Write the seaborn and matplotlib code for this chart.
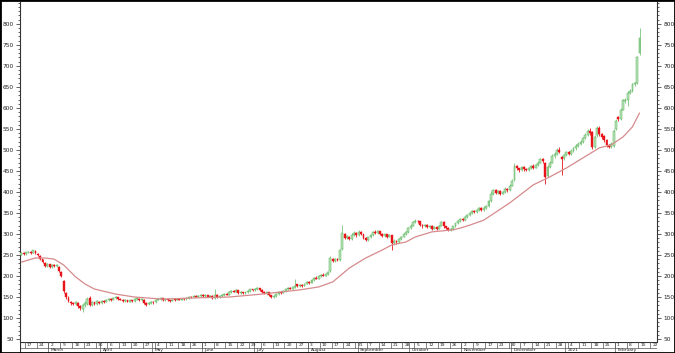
import numpy as np
import pandas as pd
import matplotlib
matplotlib.use("Agg")
import matplotlib.pyplot as plt
from matplotlib.patches import Rectangle
from matplotlib.ticker import FixedLocator, MultipleLocator
import seaborn as sns

sns.set_style("white")
plt.rcParams['font.family'] = ['DejaVu Sans']

# ---------------- data (daily candles) ----------------
opens = [
    250,254,252,256,257,255,260,253,248,240,
    232,224,228,222,227,224,222,210,188,160,
    148,138,136,133,135,128,122,130,134,148,
    131,137,134,139,136,141,138,142,146,144,
    147,150,146,144,140,143,139,142,140,145,
    146,143,144,136,133,135,139,137,144,146,
    147,143,146,142,141,144,143,145,144,146,
    145,148,150,149,152,151,153,156,152,155,
    151,153,148,155,150,152,155,158,156,162,
    165,163,166,160,162,159,161,164,168,166,
    169,171,167,163,159,161,154,150,153,158,
    162,160,165,168,171,170,173,180,176,179,
    177,182,186,184,190,196,194,200,203,201,
    205,212,240,236,240,238,265,300,290,294,
    288,298,303,297,305,300,290,286,292,298,
    305,302,306,300,296,299,294,297,278,284,
    280,288,294,300,305,314,320,328,332,330,
    322,318,321,317,320,313,316,312,320,328,
    318,314,310,312,318,325,330,336,334,340,
    345,350,355,352,358,362,357,362,366,378,
    396,405,398,402,396,400,408,404,415,428,
    462,456,452,460,455,453,458,462,458,464,
    470,478,470,438,460,470,486,490,500,484,
    480,488,494,490,498,504,510,514,520,528,
    536,545,543,508,535,553,538,532,524,512,
    508,510,550,578,574,596,616,620,636,640,
    656,660,730]
closes = [
    254,252,256,258,255,261,254,250,240,234,
    225,228,222,227,224,226,212,200,164,150,
    140,136,134,137,129,124,131,136,146,130,
    138,134,140,136,141,138,143,146,144,148,
    150,146,144,140,143,139,142,140,145,147,
    143,146,136,132,136,139,137,144,146,147,
    143,146,142,141,144,143,145,144,146,145,
    148,150,149,152,151,153,156,152,155,151,
    153,148,155,150,152,155,158,156,162,165,
    163,166,160,162,159,161,164,168,166,169,
    171,167,163,159,161,154,150,153,158,162,
    160,165,168,171,170,173,176,176,179,177,
    182,186,184,190,196,194,200,203,201,205,
    210,242,236,240,237,262,303,290,295,288,
    298,303,297,305,300,290,286,292,298,305,
    302,306,300,296,299,294,297,278,284,280,
    288,294,300,305,314,320,328,332,330,322,
    318,321,317,320,313,316,312,320,328,318,
    314,310,312,318,325,330,336,334,340,345,
    350,355,352,358,362,357,362,366,378,396,
    405,398,402,396,400,408,404,415,426,462,
    456,452,460,455,453,458,462,458,464,470,
    478,474,436,460,470,486,490,500,496,478,
    488,494,490,498,504,510,514,520,528,536,
    545,540,507,530,552,538,530,524,512,508,
    514,546,570,574,596,618,620,636,640,656,
    659,720,767]
highs = [
    256,257,258,260,259,263,262,255,249,241,
    234,230,229,229,229,228,223,212,190,162,
    152,140,139,140,138,130,134,140,150,152,
    141,139,142,141,143,143,146,148,148,150,
    152,151,148,145,145,144,144,144,147,149,
    148,147,145,137,138,141,141,146,148,149,
    148,148,147,144,146,146,147,146,148,147,
    150,152,152,156,154,155,158,158,157,156,
    155,154,170,157,154,157,160,160,164,167,
    167,168,167,164,163,163,166,170,170,171,
    173,172,168,164,163,162,155,155,160,164,
    164,167,170,173,173,175,192,182,182,181,
    184,189,188,192,198,199,202,205,206,207,
    212,247,244,244,243,265,321,302,298,296,
    302,307,305,309,307,301,292,294,300,308,
    309,309,307,302,301,300,299,298,287,286,
    290,296,302,307,317,323,332,335,334,332,
    324,323,323,322,321,318,317,322,330,330,
    320,316,314,320,327,333,338,339,343,347,
    353,358,358,360,364,364,366,368,382,402,
    408,407,405,404,403,411,410,420,430,468,
    465,458,462,462,458,460,465,466,467,473,
    482,480,472,463,474,490,494,504,506,486,
    490,497,497,502,507,513,518,524,531,540,
    550,552,546,535,556,556,541,535,526,514,
    518,549,574,580,600,622,624,640,644,659,
    662,724,790]
lows = [
    249,250,251,254,253,254,252,248,238,232,
    222,221,220,220,222,221,210,198,160,146,
    138,132,130,130,125,118,115,126,130,128,
    128,131,132,133,134,136,137,140,141,142,
    145,144,142,138,138,137,137,138,139,143,
    141,141,133,129,130,133,134,136,142,144,
    141,141,140,139,140,141,142,142,143,143,
    144,146,147,148,149,150,151,150,150,149,
    149,146,146,148,148,150,153,154,155,160,
    161,162,158,158,157,157,159,162,164,164,
    167,165,160,157,156,152,148,148,151,156,
    158,159,163,166,168,168,171,174,175,175,
    176,180,182,183,188,192,192,198,199,199,
    203,210,233,233,235,235,262,287,287,285,
    286,295,294,295,297,287,283,284,290,296,
    299,300,297,293,294,291,292,262,274,277,
    278,286,292,298,303,312,318,325,327,320,
    315,316,314,315,310,311,309,311,318,315,
    311,308,307,310,316,323,328,332,332,338,
    343,348,350,350,355,354,355,360,364,376,
    392,395,395,393,394,398,401,402,413,426,
    452,448,450,451,449,450,455,455,456,462,
    468,470,418,435,458,468,482,488,492,440,
    476,485,487,488,495,501,507,511,517,525,
    532,535,503,505,530,534,526,520,508,504,
    505,507,548,570,572,594,612,604,632,637,
    653,658,727]

# moving-average line (trading-day number, value)
ma_day = [0,6,10,14,18,23,27,31,40,48,60,74,88,102,110,118,126,132,139,146,
          153,157,163,167,174,183,186,190,196,207,217,224,231,238,245,250,255,259,262]
ma_value = [233,243,243,240,226,198,181,169,157,150,145,148,150,157,162,167,174,186,219,243,
            262,274,281,293,305,310,314,321,333,374,417,436,457,481,505,512,531,555,588]

first_day = "2020-02-13"
week_labels = ["17","24","2","9","16","23","30","6","13","20","27","4","11","18","26",
               "1","8","15","22","29","6","13","20","27","3","10","17","24","31",
               "7","14","21","28","5","12","19","26","2","9","17","23","30",
               "7","14","21","28","4","11","18","25","1","8","15","22"]
month_labels = ["March","April","May","June","July","August","September","October",
                "November","December","2021","February"]
month_keys = ["2020-03","2020-04","2020-05","2020-06","2020-07","2020-08","2020-09",
              "2020-10","2020-11","2020-12","2021-01","2021-02"]
y_ticks = [50,100,150,200,250,300,350,400,450,500,550,600,650,700,750,800]

# ---------------- build ----------------
n = len(closes)
df = pd.DataFrame({"day": np.arange(n), "open": opens, "high": highs,
                   "low": lows, "close": closes})
df["up"] = df["close"] >= df["open"]

dates = pd.bdate_range(first_day, periods=275)

W, H = 675, 353
fig = plt.figure(figsize=(W/100, H/100), dpi=100)
L, R, T, B = 20, 657, 2, 342
ax = fig.add_axes([L/W, (H-B)/H, (R-L)/W, (B-T)/H])
xmin, xmax = -0.55, 269.4

green_fill, green_edge = "#bfe5bb", "#4caf50"
red_c = "#e8141a"

up = df[df.up]
dn = df[~df.up]
ax.vlines(up.day, up.low, up.high, color="#7cc47c", lw=0.6, zorder=2)
ax.vlines(dn.day, dn.low, dn.high, color=red_c, lw=0.6, zorder=2)
body_up = np.maximum(up.close - up.open, 1.2)
body_dn = np.maximum(dn.open - dn.close, 1.2)
ax.bar(up.day, body_up, bottom=up.open, width=0.8, color=green_fill,
       edgecolor=green_edge, linewidth=0.35, zorder=3)
ax.bar(dn.day, body_dn, bottom=dn.close, width=0.8, color=red_c,
       edgecolor=red_c, linewidth=0.3, zorder=3)

sns.lineplot(x=ma_day, y=ma_value, ax=ax, color="#d68a8c", lw=0.9, zorder=4)

ax.set_xlim(xmin, xmax)
ax.set_ylim(43, 852)
ax.set_xticks([])
ax.yaxis.set_major_locator(FixedLocator(y_ticks))
ax.yaxis.set_minor_locator(MultipleLocator(10))
ax.set_yticklabels([str(v) for v in y_ticks])
ax.tick_params(axis="y", which="both", left=True, right=True, labelleft=True,
               labelright=True, direction="out", colors="#222222", width=0.5)
ax.tick_params(axis="y", which="major", length=3, labelsize=4.2, pad=1.5)
ax.tick_params(axis="y", which="minor", length=1.6)
for s in ["top", "bottom"]:
    ax.spines[s].set_visible(False)
for s in ["left", "right"]:
    ax.spines[s].set_color("#333333")
    ax.spines[s].set_linewidth(0.8)
ax.set_xlabel("")
ax.set_ylabel("")
ax.grid(False)

# ---------------- date strip ----------------
ax2 = fig.add_axes([L/W, 0, (R-L)/W, (H-B)/H])
ax2.set_xlim(xmin, xmax)
ax2.set_ylim(0, 1)
ax2.axis("off")
ax2.axhline(1, color="#333333", lw=0.8)
ax2.axhline(0.5, color="#555555", lw=0.5)
ax2.axvline(xmin, color="#333333", lw=0.8)

mondays = dates[(dates.weekday == 0) & (dates >= pd.Timestamp("2020-02-17"))]
week_pos = np.searchsorted(dates, mondays[:len(week_labels)])
for p, lab in zip(week_pos, week_labels):
    ax2.plot([p - 0.5, p - 0.5], [0.5, 1], color="#555555", lw=0.5)
    ax2.text(p + 0.4, 0.74, lab, fontsize=3.2, ha="left", va="center", color="#222222")

for key, lab in zip(month_keys, month_labels):
    p = int(np.argmax(dates.strftime("%Y-%m") == key))
    ax2.plot([p - 0.5, p - 0.5], [0, 1], color="#555555", lw=0.5)
    ax2.text(p + 0.6, 0.24, lab, fontsize=3.2, ha="left", va="center", color="#222222")

fig.patches.append(Rectangle((0, 0), 1, 1, transform=fig.transFigure, fill=False,
                             edgecolor="black", lw=2.0))

fig.savefig("out.png", dpi=100)
